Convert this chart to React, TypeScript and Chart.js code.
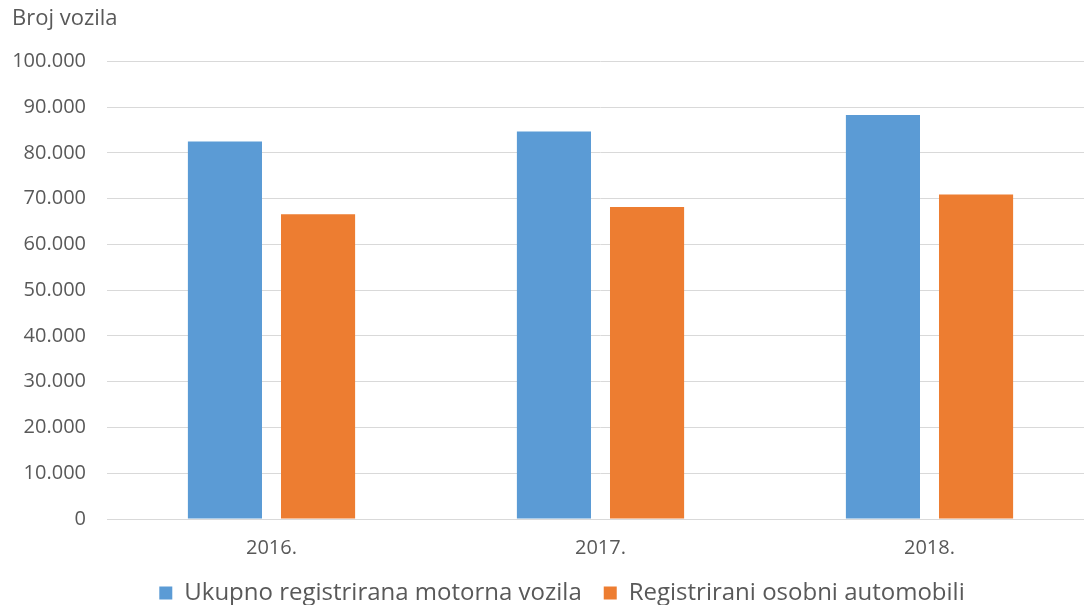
import React, { useEffect, useRef } from "react";
import { Chart, registerables } from "chart.js";

Chart.register(...registerables);

const categories = ["2016.", "2017.", "2018."];
const seriesNames = ["Ukupno registrirana motorna vozila", "Registrirani osobni automobili"];
const totalVehicles = [82500, 84700, 88300];
const passengerCars = [66600, 68200, 70900];
const yTicks = [0, 10000, 20000, 30000, 40000, 50000, 60000, 70000, 80000, 90000, 100000];
const yAxisTitle = "Broj vozila";

const FONT = "'Open Sans', sans-serif";
const TEXT = "#595959";

function fmt(v: number): string {
  return String(v).replace(/\B(?=(\d{3})+(?!\d))/g, ".");
}

export default function App() {
  const ref = useRef<HTMLCanvasElement | null>(null);
  useEffect(() => {
    if (!ref.current) return;
    const chart = new Chart(ref.current, {
      type: "bar",
      data: {
        labels: categories,
        datasets: [
          {
            label: seriesNames[0],
            data: totalVehicles,
            backgroundColor: "#5B9BD5",
            barPercentage: 0.796,
            categoryPercentage: 0.566,
          },
          {
            label: seriesNames[1],
            data: passengerCars,
            backgroundColor: "#ED7D31",
            barPercentage: 0.796,
            categoryPercentage: 0.566,
          },
        ],
      },
      options: {
        responsive: false,
        animation: false,
        devicePixelRatio: 1,
        layout: { padding: { left: 12, right: 6, top: 6, bottom: 0 } },
        plugins: {
          title: {
            display: true,
            text: yAxisTitle,
            align: "start",
            color: TEXT,
            font: { family: FONT, size: 22, weight: "normal" },
            padding: { top: 0, bottom: 29 },
          },
          legend: {
            position: "bottom",
            labels: {
              color: TEXT,
              font: { family: FONT, size: 24 },
              boxWidth: 13,
              boxHeight: 13,
              padding: 22,
            },
          },
          tooltip: { enabled: false },
        },
        scales: {
          x: {
            grid: { display: false },
            border: { color: "#D9D9D9" },
            ticks: { color: TEXT, font: { family: FONT, size: 20 }, padding: 9 },
            afterFit: (s: any) => {
              s.height = s.height - 10;
            },
          },
          y: {
            min: 0,
            max: 100000,
            afterBuildTicks: (s: any) => {
              s.ticks = yTicks.map((v) => ({ value: v }));
            },
            grid: { color: "#D9D9D9", drawTicks: false },
            border: { display: false },
            ticks: {
              color: TEXT,
              font: { family: FONT, size: 20 },
              padding: 21,
              callback: (v: any) => fmt(Number(v)),
            },
            afterFit: (s: any) => {
              s.width = 95;
            },
          },
          y2: {
            position: "right",
            display: true,
            grid: { display: false, drawTicks: false },
            border: { display: false },
            ticks: { display: false },
            afterFit: (s: any) => {
              s.width = 18;
            },
          },
        },
      },
    });
    return () => chart.destroy();
  }, []);
  return (
    <div style={{ position: "fixed", left: 0, top: 0, width: 1084, height: 605, overflow: "hidden", background: "#fff" }}>
      <canvas ref={ref} width={1118} height={615} style={{ width: 1118, height: 615, display: "block" }} />
    </div>
  );
}
